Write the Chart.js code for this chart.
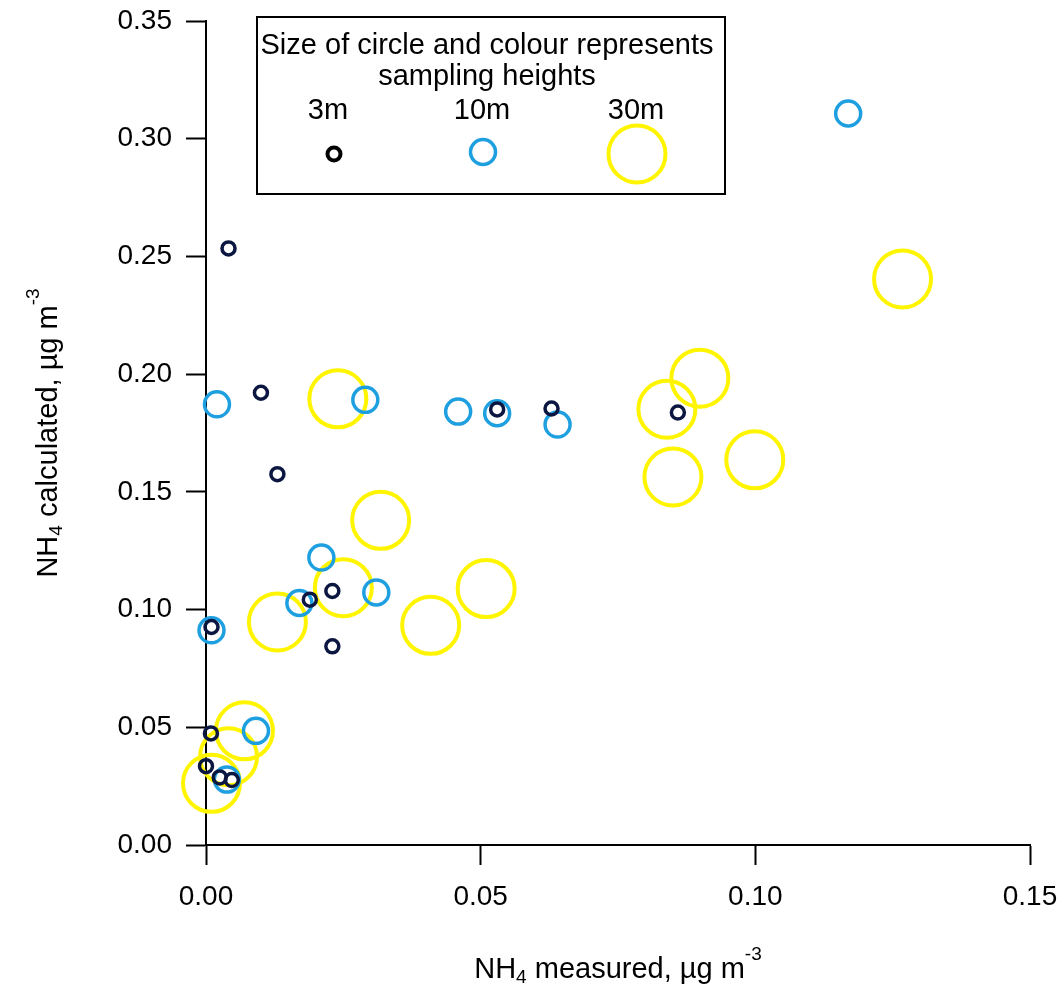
<!DOCTYPE html>
<html>
<head>
<meta charset="utf-8">
<script src="https://cdn.jsdelivr.net/npm/chart.js@4/dist/chart.umd.min.js"></script>
<style>
  html, body { margin: 0; padding: 0; background: #fff; }
  #wrap { width: 1062px; height: 992px; position: relative; }
</style>
</head>
<body>
<div id="wrap"><canvas id="chart"></canvas></div>
<script>
// NH4 measured (x) vs calculated (y), ug m-3, per sampling height
const x3m = [0.0041, 0.0100, 0.0130, 0.0530, 0.0629, 0.0859, 0.0230, 0.0189, 0.0010, 0.0230, 0.0009, 0.0000, 0.0025, 0.0047];
const y3m = [0.2534, 0.1921, 0.1575, 0.1850, 0.1854, 0.1837, 0.1079, 0.1042, 0.0926, 0.0844, 0.0474, 0.0335, 0.0287, 0.0276];

const x10m = [0.1169, 0.0020, 0.0290, 0.0459, 0.0530, 0.0640, 0.0210, 0.0310, 0.0170, 0.0010, 0.0091, 0.0038];
const y10m = [0.3107, 0.1872, 0.1891, 0.1841, 0.1834, 0.1786, 0.1221, 0.1073, 0.1028, 0.0912, 0.0485, 0.0278];

const x30m = [0.1268, 0.0899, 0.0839, 0.0999, 0.0850, 0.0240, 0.0318, 0.0250, 0.0510, 0.0130, 0.0409, 0.0070, 0.0041, 0.0010];
const y30m = [0.2404, 0.1983, 0.1851, 0.1636, 0.1563, 0.1895, 0.1379, 0.1093, 0.1089, 0.0947, 0.0933, 0.0485, 0.0375, 0.0262];

const heightLabels = ["3m", "10m", "30m"];
const xTicks = [0, 0.05, 0.10, 0.15];
const yTicks = [0, 0.05, 0.10, 0.15, 0.20, 0.25, 0.30, 0.35];

const FONT = '"Liberation Sans", Arial, Helvetica, sans-serif';
const NAVY = "#0b1740";
const BLUE = "#1e9fe0";
const YELLOW = "#fff500";

const toPoints = (xs, ys) => xs.map((x, i) => ({ x: x, y: ys[i] }));

// draws "main" + subscript/superscript pieces, returns total width
const drawRich = (ctx, parts, x, y, measureOnly) => {
  let cx = x;
  parts.forEach((p) => {
    const size = p.sub || p.sup ? 19 : 29;
    ctx.font = `${size}px ${FONT}`;
    const dy = p.sub ? 5 : p.sup ? -18 : 0;
    if (!measureOnly) ctx.fillText(p.t, cx, y + dy);
    cx += ctx.measureText(p.t).width;
  });
  return cx - x;
};

const xTitle = [{ t: "NH" }, { t: "4", sub: true }, { t: " measured, \u00b5g m" }, { t: "-3", sup: true }];
const yTitle = [{ t: "NH" }, { t: "4", sub: true }, { t: " calculated, \u00b5g m" }, { t: "-3", sup: true }];

const decorPlugin = {
  id: "decor",
  afterDraw(chart) {
    const ctx = chart.ctx;
    const area = chart.chartArea;
    ctx.save();
    ctx.fillStyle = "#000";
    ctx.textAlign = "left";
    ctx.textBaseline = "alphabetic";

    // x axis title
    const cxMid = (area.left + area.right) / 2;
    const wx = drawRich(ctx, xTitle, 0, 0, true);
    drawRich(ctx, xTitle, cxMid - wx / 2, 978, false);

    // y axis title (rotated)
    const cyMid = (area.top + area.bottom) / 2;
    const wy = drawRich(ctx, yTitle, 0, 0, true);
    ctx.save();
    ctx.translate(57, cyMid + wy / 2);
    ctx.rotate(-Math.PI / 2);
    drawRich(ctx, yTitle, 0, 0, false);
    ctx.restore();

    // legend box
    ctx.strokeStyle = "#000";
    ctx.lineWidth = 2;
    ctx.strokeRect(257, 17, 468, 177);
    ctx.font = `29px ${FONT}`;
    ctx.textAlign = "center";
    ctx.fillText("Size of circle and colour represents", 487, 54);
    ctx.fillText("sampling heights", 487, 85);
    const legendX = [328, 482, 636];
    heightLabels.forEach((lab, i) => ctx.fillText(lab, legendX[i], 119));

    const ring = (x, y, r, w, c) => {
      ctx.beginPath();
      ctx.arc(x, y, r, 0, Math.PI * 2);
      ctx.lineWidth = w;
      ctx.strokeStyle = c;
      ctx.stroke();
    };
    ring(334, 154, 6.5, 4, "#000");
    ring(483, 152, 12.5, 3.5, BLUE);
    ring(637, 154, 28.5, 4, YELLOW);
    ctx.restore();
  },
};

const axisCommon = {
  grid: { drawOnChartArea: false, drawTicks: true, tickLength: 20, tickWidth: 2, tickColor: "#000" },
  border: { display: true, color: "#000", width: 2 },
};

// keep the plot frame where the reference has it: ignore label overflow padding
const noOverflow = (s) => {
  s.paddingTop = 0;
  s.paddingBottom = 0;
  s.paddingLeft = 0;
  s.paddingRight = 0;
};

new Chart(document.getElementById("chart"), {
  type: "scatter",
  data: {
    datasets: [
      { label: heightLabels[0], data: toPoints(x3m, y3m), borderColor: NAVY, backgroundColor: "transparent", pointRadius: 6.5, borderWidth: 3.5, clip: false },
      { label: heightLabels[1], data: toPoints(x10m, y10m), borderColor: BLUE, backgroundColor: "transparent", pointRadius: 12.5, borderWidth: 3.5, clip: false },
      { label: heightLabels[2], data: toPoints(x30m, y30m), borderColor: YELLOW, backgroundColor: "transparent", pointRadius: 28.5, borderWidth: 4, clip: false },
    ],
  },
  options: {
    responsive: true,
    maintainAspectRatio: false,
    animation: false,
    events: [],
    layout: { autoPadding: false, padding: { left: 0, right: 32, top: 21, bottom: 0 } },
    plugins: { legend: { display: false }, tooltip: { enabled: false } },
    scales: {
      x: {
        type: "linear",
        min: 0,
        max: 0.15,
        afterFit: (s) => { s.height = 147; noOverflow(s); },
        afterBuildTicks: (s) => { s.ticks = xTicks.map((v) => ({ value: v })); },
        ticks: { color: "#000", padding: 15, font: { family: FONT, size: 28 }, maxRotation: 0, callback: (v) => v.toFixed(2) },
        ...axisCommon,
      },
      y: {
        type: "linear",
        min: 0,
        max: 0.35,
        afterFit: (s) => { s.width = 206; noOverflow(s); },
        afterBuildTicks: (s) => { s.ticks = yTicks.map((v) => ({ value: v })); },
        ticks: { color: "#000", padding: 14, font: { family: FONT, size: 28 }, callback: (v) => v.toFixed(2) },
        ...axisCommon,
      },
    },
  },
  plugins: [decorPlugin],
});
</script>
</body>
</html>
